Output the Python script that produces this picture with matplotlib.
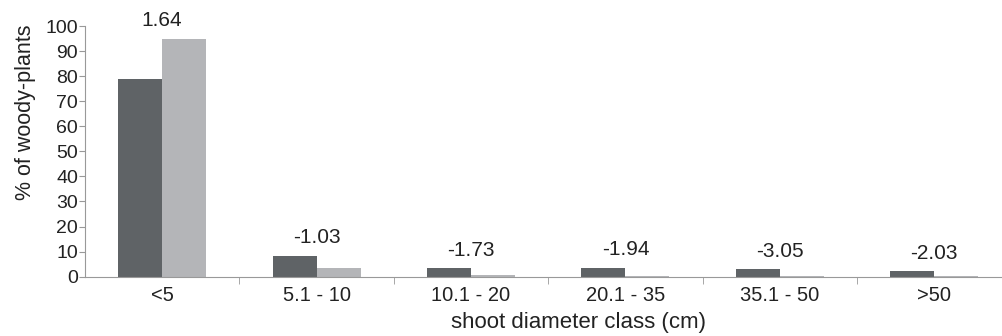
import matplotlib.pyplot as plt
import numpy as np

plt.rcParams['font.family'] = ['Liberation Sans', 'DejaVu Sans']

# diameter classes and the two series (% of woody plants)
classes = ['<5', '5.1 - 10', '10.1 - 20', '20.1 - 35', '35.1 - 50', '>50']
dark_vals = [79, 8.4, 3.3, 3.6, 3.1, 2.3]
light_vals = [95, 3.3, 0.5, 0.3, 0.15, 0.1]
labels = ['1.64', '-1.03', '-1.73', '-1.94', '-3.05', '-2.03']

fig = plt.figure(figsize=(10.03, 3.36), dpi=100)
ax = fig.add_axes([0.0847, 0.1765, 0.9153, 0.7461])

x = np.arange(len(classes))
w = 0.285
ax.bar(x - w / 2, dark_vals, w, color='#5f6366')
ax.bar(x + w / 2, light_vals, w, color='#b4b5b8')

for i, lab in enumerate(labels):
    top = max(dark_vals[i], light_vals[i])
    ax.annotate(lab, (x[i], top), xytext=(0, 6), textcoords='offset points',
                ha='center', va='bottom', fontsize=15, color='#222222',
                annotation_clip=False)

ax.set_xlim(-0.5, 5.445)
ax.set_ylim(0, 100)
ax.set_yticks(range(0, 101, 10))
ax.set_xticks(x)
ax.set_xticklabels(classes)
ax.set_xticks(np.arange(0.5, 5.5, 1), minor=True)
ax.tick_params(axis='x', which='major', length=0, pad=7, labelsize=14.5,
               labelcolor='#222222')
ax.tick_params(axis='x', which='minor', length=5, color='#999999')
ax.tick_params(axis='y', length=4, color='#999999', labelsize=14, pad=1,
               labelcolor='#222222')

for s in ['top', 'right']:
    ax.spines[s].set_visible(False)
for s in ['left', 'bottom']:
    ax.spines[s].set_color('#999999')

ax.set_ylabel('% of woody-plants', fontsize=15.5, color='#222222')
ax.yaxis.set_label_coords(-0.053, 0.657)
ax.set_xlabel('shoot diameter class (cm)', fontsize=16, color='#222222')
ax.xaxis.set_label_coords(0.538, -0.14)

plt.savefig('out.png', dpi=100)
